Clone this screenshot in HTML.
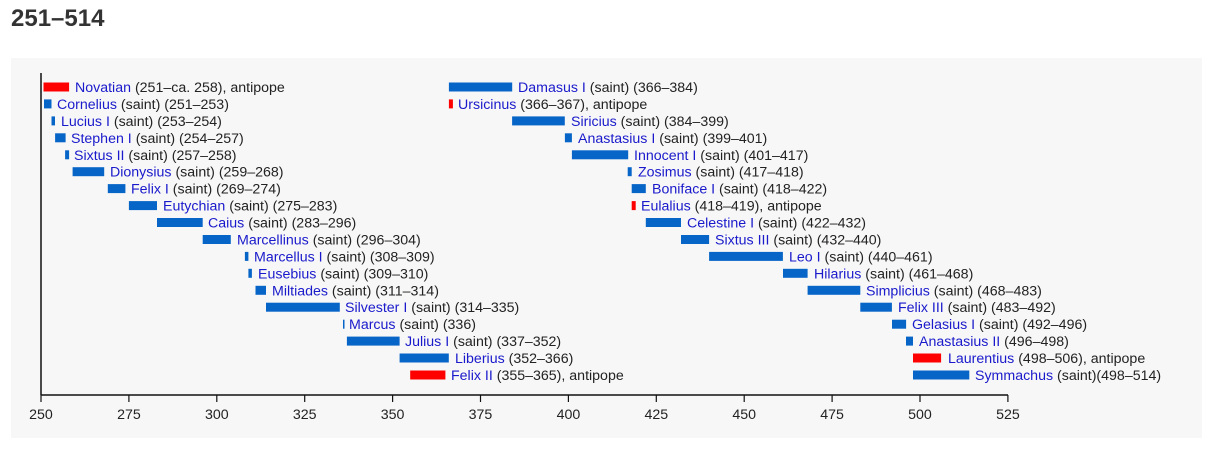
<!DOCTYPE html>
<html><head><meta charset="utf-8"><style>
body{margin:0;background:#fff;width:1225px;height:475px;overflow:hidden;font-family:"Liberation Sans",sans-serif}
h2{position:absolute;left:11px;top:5px;margin:0;font-size:24px;font-weight:bold;color:#333}
svg{position:absolute;left:0;top:0}
text{font-family:"Liberation Sans",sans-serif;font-size:14.2px;fill:#222}
.n{fill:#1a1acc}
.b{fill:#0865c8}.r{fill:#f00}
</style></head><body>
<h2>251–514</h2>
<svg width="1225" height="475">
<rect x="11" y="58" width="1191" height="380" fill="#f7f7f7"/>
<line x1="41" y1="73" x2="41" y2="395" stroke="#111" stroke-width="1.5"/>
<line x1="41" y1="395" x2="1008" y2="395" stroke="#111" stroke-width="1.5"/>
<g stroke="#111" stroke-width="1.2">
<line x1="41" y1="395" x2="41" y2="402"/><line x1="128.9" y1="395" x2="128.9" y2="402"/><line x1="216.8" y1="395" x2="216.8" y2="402"/><line x1="304.7" y1="395" x2="304.7" y2="402"/><line x1="392.6" y1="395" x2="392.6" y2="402"/><line x1="480.5" y1="395" x2="480.5" y2="402"/><line x1="568.4" y1="395" x2="568.4" y2="402"/><line x1="656.3" y1="395" x2="656.3" y2="402"/><line x1="744.2" y1="395" x2="744.2" y2="402"/><line x1="832.1" y1="395" x2="832.1" y2="402"/><line x1="920" y1="395" x2="920" y2="402"/><line x1="1007.9" y1="395" x2="1007.9" y2="402"/>
</g>
<g text-anchor="middle">
<text x="41" y="419">250</text><text x="128.9" y="419">275</text><text x="216.8" y="419">300</text><text x="304.7" y="419">325</text><text x="392.6" y="419">350</text><text x="480.5" y="419">375</text><text x="568.4" y="419">400</text><text x="656.3" y="419">425</text><text x="744.2" y="419">450</text><text x="832.1" y="419">475</text><text x="920" y="419">500</text><text x="1007.9" y="419">525</text>
</g>
<rect class="r" x="43.5" y="82.5" width="25.6" height="9"/><text x="75" y="92"><tspan class="n">Novatian</tspan> (251–ca. 258), antipope</text>
<rect class="b" x="44" y="99.4" width="7.5" height="9"/><text x="57" y="108.9"><tspan class="n">Cornelius</tspan> (saint) (251–253)</text>
<rect class="b" x="51.5" y="116.4" width="3.5" height="9"/><text x="61" y="125.9"><tspan class="n">Lucius I</tspan> (saint) (253–254)</text>
<rect class="b" x="55.1" y="133.3" width="10.5" height="9"/><text x="71" y="142.8"><tspan class="n">Stephen I</tspan> (saint) (254–257)</text>
<rect class="b" x="65.1" y="150.3" width="4" height="9"/><text x="74" y="159.8"><tspan class="n">Sixtus II</tspan> (saint) (257–258)</text>
<rect class="b" x="72.6" y="167.2" width="31.6" height="9"/><text x="110" y="176.7"><tspan class="n">Dionysius</tspan> (saint) (259–268)</text>
<rect class="b" x="107.8" y="184.1" width="17.6" height="9"/><text x="131" y="193.6"><tspan class="n">Felix I</tspan> (saint) (269–274)</text>
<rect class="b" x="128.9" y="201.1" width="28.1" height="9"/><text x="163" y="210.6"><tspan class="n">Eutychian</tspan> (saint) (275–283)</text>
<rect class="b" x="157" y="218" width="45.7" height="9"/><text x="208" y="227.5"><tspan class="n">Caius</tspan> (saint) (283–296)</text>
<rect class="b" x="202.7" y="235" width="28.1" height="9"/><text x="237" y="244.5"><tspan class="n">Marcellinus</tspan> (saint) (296–304)</text>
<rect class="b" x="244.9" y="251.9" width="3.5" height="9"/><text x="254" y="261.4"><tspan class="n">Marcellus I</tspan> (saint) (308–309)</text>
<rect class="b" x="248.4" y="268.8" width="3.5" height="9"/><text x="258" y="278.3"><tspan class="n">Eusebius</tspan> (saint) (309–310)</text>
<rect class="b" x="255.5" y="285.8" width="10.5" height="9"/><text x="272" y="295.3"><tspan class="n">Miltiades</tspan> (saint) (311–314)</text>
<rect class="b" x="266" y="302.7" width="73.8" height="9"/><text x="345" y="312.2"><tspan class="n">Silvester I</tspan> (saint) (314–335)</text>
<rect class="b" x="343" y="319.7" width="1.5" height="9"/><text x="349" y="329.2"><tspan class="n">Marcus</tspan> (saint) (336)</text>
<rect class="b" x="346.9" y="336.6" width="52.7" height="9"/><text x="405" y="346.1"><tspan class="n">Julius I</tspan> (saint) (337–352)</text>
<rect class="b" x="399.6" y="353.5" width="49.2" height="9"/><text x="455" y="363"><tspan class="n">Liberius</tspan> (352–366)</text>
<rect class="r" x="410.2" y="370.5" width="35.2" height="9"/><text x="451" y="380"><tspan class="n">Felix II</tspan> (355–365), antipope</text>
<rect class="b" x="448.9" y="82.5" width="63.3" height="9"/><text x="518" y="92"><tspan class="n">Damasus I</tspan> (saint) (366–384)</text>
<rect class="r" x="448.9" y="99.4" width="4" height="9"/><text x="458" y="108.9"><tspan class="n">Ursicinus</tspan> (366–367), antipope</text>
<rect class="b" x="512.1" y="116.4" width="52.7" height="9"/><text x="571" y="125.9"><tspan class="n">Siricius</tspan> (saint) (384–399)</text>
<rect class="b" x="564.9" y="133.3" width="7" height="9"/><text x="578" y="142.8"><tspan class="n">Anastasius I</tspan> (saint) (399–401)</text>
<rect class="b" x="571.9" y="150.3" width="56.3" height="9"/><text x="634" y="159.8"><tspan class="n">Innocent I</tspan> (saint) (401–417)</text>
<rect class="b" x="627.7" y="167.2" width="4" height="9"/><text x="638" y="176.7"><tspan class="n">Zosimus</tspan> (saint) (417–418)</text>
<rect class="b" x="631.7" y="184.1" width="14.1" height="9"/><text x="652" y="193.6"><tspan class="n">Boniface I</tspan> (saint) (418–422)</text>
<rect class="r" x="631.7" y="201.1" width="4" height="9"/><text x="641" y="210.6"><tspan class="n">Eulalius</tspan> (418–419), antipope</text>
<rect class="b" x="645.8" y="218" width="35.2" height="9"/><text x="687" y="227.5"><tspan class="n">Celestine I</tspan> (saint) (422–432)</text>
<rect class="b" x="681" y="235" width="28.1" height="9"/><text x="715" y="244.5"><tspan class="n">Sixtus III</tspan> (saint) (432–440)</text>
<rect class="b" x="709.1" y="251.9" width="73.8" height="9"/><text x="789" y="261.4"><tspan class="n">Leo I</tspan> (saint) (440–461)</text>
<rect class="b" x="783" y="268.8" width="24.6" height="9"/><text x="814" y="278.3"><tspan class="n">Hilarius</tspan> (saint) (461–468)</text>
<rect class="b" x="807.6" y="285.8" width="52.7" height="9"/><text x="866" y="295.3"><tspan class="n">Simplicius</tspan> (saint) (468–483)</text>
<rect class="b" x="860.3" y="302.7" width="31.6" height="9"/><text x="898" y="312.2"><tspan class="n">Felix III</tspan> (saint) (483–492)</text>
<rect class="b" x="892" y="319.7" width="14.1" height="9"/><text x="912" y="329.2"><tspan class="n">Gelasius I</tspan> (saint) (492–496)</text>
<rect class="b" x="906" y="336.6" width="7" height="9"/><text x="919" y="346.1"><tspan class="n">Anastasius II</tspan> (496–498)</text>
<rect class="r" x="913" y="353.5" width="28.1" height="9"/><text x="948" y="363"><tspan class="n">Laurentius</tspan> (498–506), antipope</text>
<rect class="b" x="913" y="370.5" width="56.3" height="9"/><text x="975" y="380"><tspan class="n">Symmachus</tspan> (saint)(498–514)</text>
</svg>
</body></html>
